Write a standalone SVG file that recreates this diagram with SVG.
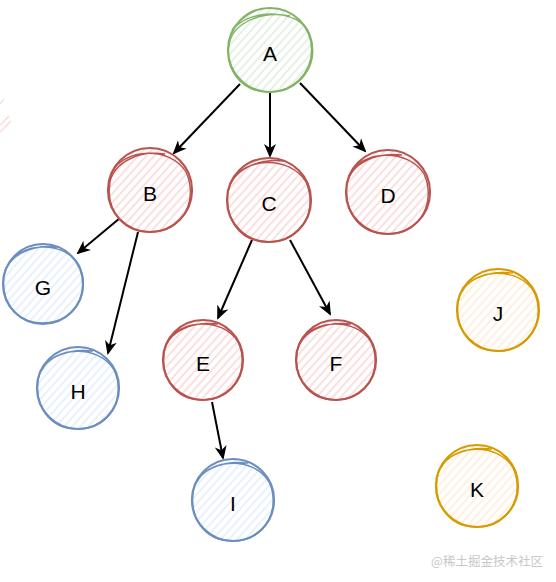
<svg xmlns="http://www.w3.org/2000/svg" width="556" height="582" viewBox="0 0 556 582">
<defs>
<pattern id="hg" width="6" height="6" patternUnits="userSpaceOnUse" patternTransform="rotate(-48)"><rect width="6" height="6" fill="#fff"/><line x1="0" y1="3" x2="6" y2="3" stroke="#d5e8d4" stroke-width="1.2"/></pattern>
<pattern id="hr" width="6" height="6" patternUnits="userSpaceOnUse" patternTransform="rotate(-48)"><rect width="6" height="6" fill="#fff"/><line x1="0" y1="3" x2="6" y2="3" stroke="#f8cecc" stroke-width="1.2"/></pattern>
<pattern id="hb" width="6" height="6" patternUnits="userSpaceOnUse" patternTransform="rotate(-48)"><rect width="6" height="6" fill="#fff"/><line x1="0" y1="3" x2="6" y2="3" stroke="#dae8fc" stroke-width="1.2"/></pattern>
<pattern id="ho" width="6" height="6" patternUnits="userSpaceOnUse" patternTransform="rotate(-48)"><rect width="6" height="6" fill="#fff"/><line x1="0" y1="3" x2="6" y2="3" stroke="#ffe6cc" stroke-width="1.2"/></pattern>
<marker id="arr" markerWidth="14" markerHeight="14" refX="12" refY="7" orient="auto" markerUnits="userSpaceOnUse" viewBox="0 0 14 14"><path d="M0,1 L14,7 L0,13 L4,7 Z" fill="#000"/></marker>
</defs>
<style>
.g .b{fill:url(#hg)} .g path,.g circle{stroke:#82b366}
.r .b{fill:url(#hr)} .r path,.r circle{stroke:#b85450}
.bl .b{fill:url(#hb)} .bl path,.bl circle{stroke:#6c8ebf}
.o .b{fill:url(#ho)} .o path,.o circle{stroke:#d79b00}
circle{stroke-width:2.2}
path.s{fill:none;stroke-width:1.4}
text{font-family:"Liberation Sans",Arial,sans-serif;font-size:21px;fill:#000;text-anchor:middle;dominant-baseline:central}
.edge{stroke:#000;stroke-width:2;fill:none;marker-end:url(#arr)}
</style>
<rect width="556" height="582" fill="#fff"/>
<g id="stray" stroke="#f8cecc" stroke-width="1.2" opacity="0.8"><line x1="0" y1="125" x2="9" y2="116"/><line x1="0" y1="132" x2="11" y2="121"/><line x1="0" y1="104" x2="4" y2="99"/></g>
<g id="connectors">
<line class="edge" x1="240" y1="84" x2="174" y2="153"/>
<line class="edge" x1="270" y1="93" x2="270" y2="156"/>
<line class="edge" x1="300" y1="83" x2="365" y2="151"/>
<line class="edge" x1="120" y1="218" x2="78" y2="253"/>
<line class="edge" x1="138" y1="232" x2="108" y2="353"/>
<line class="edge" x1="252" y1="240" x2="218" y2="318"/>
<line class="edge" x1="290" y1="240" x2="330" y2="314"/>
<line class="edge" x1="212" y1="402" x2="223" y2="458"/>
</g>
<g id="A" class="g"><circle class="b" cx="270" cy="50" r="42"/><path class="s" d="M232,30 C250,8 300,8 310,35 C320,65 300,92 268,92 C240,92 225,68 229,45 C232,25 258,10 290,16"/><text x="270" y="53">A</text></g>
<g id="B" class="r"><circle class="b" cx="150" cy="190" r="42"/><path class="s" d="M112,172 C125,148 170,146 186,172 C198,198 185,232 150,232 C118,232 106,205 110,182 C114,162 140,150 165,154"/><text x="150" y="193">B</text></g>
<g id="C" class="r"><circle class="b" cx="269" cy="200" r="42"/><path class="s" d="M231,182 C244,157 290,155 306,182 C318,210 303,242 268,242 C236,242 225,215 228,192 C232,170 258,158 284,161"/><text x="269" y="203">C</text></g>
<g id="D" class="r"><circle class="b" cx="388" cy="192" r="42"/><path class="s" d="M350,174 C362,150 408,148 424,174 C436,200 422,234 388,234 C355,234 344,207 347,184 C351,163 376,152 402,155"/><text x="388" y="195">D</text></g>
<g id="G" class="bl"><circle class="b" cx="43" cy="284" r="40"/><path class="s" d="M8,265 C20,242 64,240 79,265 C91,290 77,323 43,323 C12,323 1,297 4,275 C8,255 32,244 58,247"/><text x="43" y="287">G</text></g>
<g id="H" class="bl"><circle class="b" cx="78" cy="388" r="41"/><path class="s" d="M42,370 C54,346 99,344 114,370 C126,395 112,429 78,429 C46,429 35,402 38,380 C42,358 66,348 93,351"/><text x="78" y="391">H</text></g>
<g id="E" class="r"><circle class="b" cx="203" cy="360" r="40"/><path class="s" d="M167,342 C180,319 223,317 238,342 C250,367 236,400 203,400 C172,400 161,374 164,352 C168,331 192,321 218,324"/><text x="203" y="363">E</text></g>
<g id="F" class="r"><circle class="b" cx="336" cy="360" r="40"/><path class="s" d="M300,342 C313,319 356,317 371,342 C383,367 369,400 336,400 C305,400 294,374 297,352 C301,331 325,321 351,324"/><text x="336" y="363">F</text></g>
<g id="I" class="bl"><circle class="b" cx="233" cy="500" r="41"/><path class="s" d="M197,482 C209,458 254,456 269,482 C281,507 267,541 233,541 C201,541 190,514 193,492 C197,470 221,460 248,463"/><text x="233" y="503">I</text></g>
<g id="J" class="o"><circle class="b" cx="498" cy="310" r="41"/><path class="s" d="M462,292 C474,268 519,266 534,292 C546,317 532,351 498,351 C466,351 455,324 458,302 C462,280 486,270 513,273"/><text x="498" y="313">J</text></g>
<g id="K" class="o"><circle class="b" cx="477" cy="486" r="41"/><path class="s" d="M441,468 C453,444 498,442 513,468 C525,493 511,527 477,527 C445,527 434,500 437,478 C441,456 465,446 492,449"/><text x="477" y="489">K</text></g>
<text x="487" y="560" style="font-family:'Noto Sans CJK SC','Liberation Sans',sans-serif;font-size:12.5px;fill:#c8c8c8">@稀土掘金技术社区</text>
</svg>
